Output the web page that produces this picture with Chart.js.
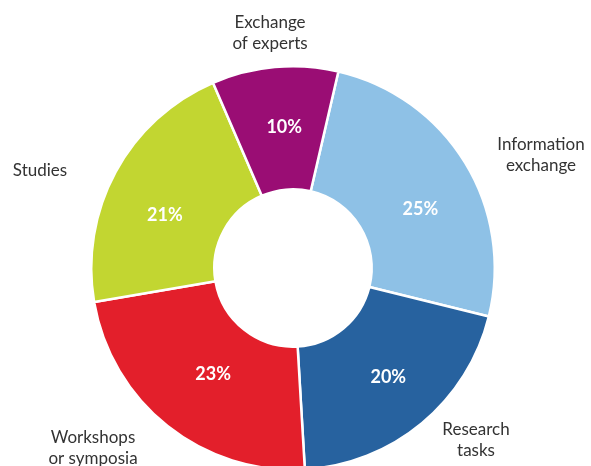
<!DOCTYPE html>
<html lang="en">
  <head>
    <meta charset="UTF-8" />
    <title>Activities</title>
    <script src="https://cdn.jsdelivr.net/npm/chart.js"></script>
    <style>
      html, body { margin: 0; padding: 0; background: #fff; overflow: hidden; }
      #wrap { width: 591px; height: 466px; overflow: hidden; }
    </style>
  </head>
  <body>
    <div id="wrap"><canvas id="mychart" width="591" height="480"></canvas></div>
    <script>
      // data
      const categories = [
        ["Information", "exchange"],
        ["Research", "tasks"],
        ["Workshops", "or symposia"],
        ["Studies"],
        ["Exchange", "of experts"],
      ];
      const shares = [25, 20, 23, 21, 10];
      const colours = ["#8ec1e6", "#27629f", "#e31f2b", "#c2d631", "#9a0d74"];

      // outside label placement, offset from chart centre
      const labelOffsets = [
        [248, -113], [183, 172], [-200, 180], [-253, -97], [-23, -235],
      ];
      // small nudges for the percent labels
      const pctNudge = [
        [7, 15], [5, 1], [8, -4], [-4, 14], [4, 0],
      ];

      const labelPlugin = {
        id: "sliceLabels",
        afterDatasetsDraw(chart) {
          const ctx = chart.ctx;
          const arcs = chart.getDatasetMeta(0).data;
          ctx.save();
          arcs.forEach((arc, i) => {
            // percent inside the ring
            const mid = (arc.startAngle + arc.endAngle) / 2;
            const r = (arc.innerRadius + arc.outerRadius) / 2 + 1;
            ctx.fillStyle = "#ffffff";
            ctx.font = "bold 18px Lato";
            ctx.textAlign = "center";
            ctx.textBaseline = "middle";
            ctx.fillText(
              shares[i] + "%",
              arc.x + Math.cos(mid) * r + pctNudge[i][0],
              arc.y + Math.sin(mid) * r + pctNudge[i][1]
            );

            // category name outside
            ctx.fillStyle = "#333333";
            ctx.font = "17px Lato";
            const lines = categories[i];
            const lh = 21;
            const top = arc.y + labelOffsets[i][1] - ((lines.length - 1) * lh) / 2;
            lines.forEach((t, j) => {
              ctx.fillText(t, arc.x + labelOffsets[i][0], top + j * lh);
            });
          });
          ctx.restore();
        },
      };

      new Chart(document.getElementById("mychart"), {
        type: "doughnut",
        data: {
          labels: categories.map((c) => c.join(" ")),
          datasets: [
            {
              data: shares,
              backgroundColor: colours,
              borderColor: "#ffffff",
              borderWidth: 2.5,
            },
          ],
        },
        options: {
          responsive: false,
          animation: false,
          rotation: 13,
          cutout: "39%",
          layout: { padding: { left: 90, right: 95, top: 64, bottom: 8 } },
          plugins: {
            legend: { display: false },
            tooltip: { enabled: false },
          },
        },
        plugins: [labelPlugin],
      });
    </script>
  </body>
</html>
